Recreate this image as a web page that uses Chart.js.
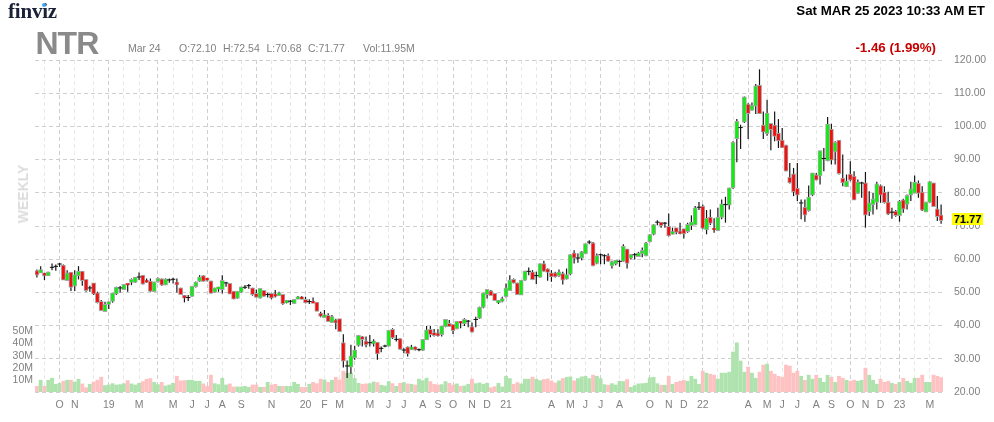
<!DOCTYPE html>
<html>
<head>
<meta charset="utf-8">
<script src="https://cdn.jsdelivr.net/npm/chart.js@4"></script>
<style>
html,body{margin:0;padding:0;background:#fff;width:994px;height:422px;overflow:hidden;font-family:"Liberation Sans",Arial,sans-serif}
#wrap{position:relative;width:994px;height:422px}
canvas{position:absolute;left:0;top:0}
.t{position:absolute;white-space:nowrap;line-height:1}
.s{font-size:10.5px;color:#808080;top:43px}
</style>
</head>
<body>
<div id="wrap">
<canvas id="c" width="994" height="422"></canvas>
<div class="t" style="left:8px;top:-1px;font:bold 21px 'Liberation Serif',serif;color:#1a2238;line-height:24px;letter-spacing:-.2px">finviz</div>
<div class="t" style="left:41.5px;top:3px;width:4px;height:4px;border-radius:50%;background:#4aa3f0"></div>
<div class="t" style="right:9px;top:3px;font:bold 13.3px 'Liberation Sans',sans-serif;color:#000">Sat MAR 25 2023 10:33 AM ET</div>
<div class="t" style="left:35.5px;top:25px;font:bold 32px 'Liberation Sans',sans-serif;color:#8a8a8a;letter-spacing:-1px">NTR</div>
<div class="t s" style="left:128px">Mar 24</div>
<div class="t s" style="left:179px">O:72.10</div>
<div class="t s" style="left:223px">H:72.54</div>
<div class="t s" style="left:266.5px">L:70.68</div>
<div class="t s" style="left:308px">C:71.77</div>
<div class="t s" style="left:363px">Vol:11.95M</div>
<div class="t" style="right:58px;top:40px;font:bold 13.3px 'Liberation Sans',sans-serif;color:#c80000">-1.46 (1.99%)</div>
<div class="t" style="left:23px;top:194px;transform:translate(-50%,-50%) rotate(-90deg);font:bold 14px 'Liberation Sans',sans-serif;color:#dcdcdc">WEEKLY</div>
<div class="t" style="left:952px;top:213px;width:31px;height:12px;background:#ffff00;font:bold 11px/12px 'Liberation Sans',sans-serif;color:#000;text-align:center">71.77</div>
</div>
<script>
const opens = [
56.4,56.0,55.7,55.2,57.4,57.7,58.4,58.0,53.7,55.9,
52.1,55.2,56.2,53.7,51.2,52.7,49.7,47.1,44.4,46.6,
47.5,49.7,51.2,51.0,52.5,53.2,53.2,54.5,55.0,53.5,
53.2,50.4,53.4,53.9,52.4,53.6,53.8,52.9,51.2,48.9,
48.3,49.0,51.9,53.5,54.9,54.2,53.3,50.2,51.2,51.0,
52.7,52.5,50.2,48.4,50.2,51.4,51.9,51.2,49.5,48.5,
50.4,49.2,49.5,49.3,49.2,49.2,47.0,47.2,46.8,48.2,
48.5,47.7,47.1,47.2,46.9,43.5,42.5,42.9,41.1,41.5,
41.9,34.7,27.7,27.7,30.5,34.2,36.5,35.2,34.7,34.6,
34.8,33.0,33.7,34.0,38.7,35.7,35.9,32.5,33.4,32.9,
33.4,32.6,32.7,35.9,38.7,37.7,37.6,37.5,39.9,40.5,
40.2,39.2,41.1,40.7,41.2,39.5,41.7,42.4,45.7,49.5,
50.3,49.5,47.0,47.5,48.9,50.7,53.7,52.7,49.4,53.9,
56.2,56.0,54.9,54.7,58.5,56.9,55.7,55.7,55.2,55.5,
54.2,55.7,61.7,60.2,60.5,61.9,65.0,64.7,58.9,61.2,
60.9,60.9,58.2,58.7,59.2,59.5,62.9,60.5,61.2,61.0,
61.8,61.2,65.4,67.7,71.0,71.0,70.7,69.7,67.7,69.3,
68.3,69.0,68.5,70.3,70.5,75.5,75.8,69.0,72.5,69.2,
68.8,72.8,76.3,76.5,81.7,96.5,99.5,101.5,106.5,105.0,
106.3,112.2,100.2,98.0,100.7,100.2,97.8,95.7,94.2,84.5,
85.5,81.2,76.8,75.5,74.8,79.5,85.2,85.3,90.2,89.8,
99.0,92.5,95.7,84.2,82.0,85.4,84.8,80.0,82.8,82.8,
74.5,76.6,77.3,82.0,80.0,77.0,74.0,74.3,73.3,77.7,
76.7,79.5,80.0,82.7,80.0,74.4,77.3,82.8,75.0,73.2];
const closes = [
55.4,56.7,55.2,56.0,57.4,57.7,58.4,53.9,55.7,51.7,
55.2,56.2,53.7,50.7,51.2,49.7,47.1,44.7,46.2,47.0,
49.7,51.4,51.2,52.2,52.4,53.7,54.4,54.5,52.7,53.2,
50.5,53.0,54.0,52.4,53.9,53.6,53.8,52.5,49.5,48.5,
48.3,51.7,52.9,54.5,53.5,53.8,49.9,51.2,51.5,53.4,
52.7,49.7,48.2,50.2,51.5,51.4,51.9,49.5,48.7,51.0,
49.0,49.2,48.5,49.0,49.7,46.7,47.4,47.2,47.7,48.5,
48.1,47.0,47.1,46.9,44.5,43.0,43.1,41.4,42.5,41.0,
38.4,29.5,27.7,30.7,32.5,36.9,36.0,34.4,34.7,35.2,
31.7,33.0,33.7,38.4,36.5,35.7,33.0,32.5,31.7,33.4,
32.9,32.6,35.7,38.5,37.5,37.2,37.1,39.7,41.7,39.9,
38.7,41.1,40.9,41.7,41.2,38.2,41.7,45.4,49.7,50.7,
49.2,47.7,47.4,47.9,51.2,53.5,53.0,49.5,53.5,56.2,
56.2,54.0,54.9,58.5,56.5,56.2,54.9,54.9,56.0,53.9,
55.2,61.2,60.5,60.2,62.1,64.5,65.0,58.2,60.9,61.2,
60.9,59.5,59.1,59.5,59.2,63.7,58.9,61.2,61.2,61.7,
62.5,64.7,67.2,70.2,71.0,70.3,70.7,67.2,68.3,68.3,
67.8,67.8,70.3,71.0,75.3,75.5,69.5,72.2,71.0,69.0,
72.5,76.5,76.3,81.3,95.0,101.3,99.5,108.7,104.0,106.2,
112.0,104.0,98.5,103.8,99.2,97.2,95.8,93.7,86.7,83.2,
80.5,79.5,76.8,73.5,78.5,85.8,84.0,92.5,90.2,100.5,
90.0,95.0,86.0,83.2,83.3,84.0,78.0,83.0,82.8,73.5,
76.8,78.0,82.5,79.5,77.2,73.8,74.0,73.3,77.3,75.3,
79.0,81.0,83.0,80.0,75.0,77.0,83.2,76.0,73.0,71.77];
const highs = [
56.9,57.9,55.9,56.2,58.7,58.4,58.9,58.4,56.7,55.9,
56.7,57.9,56.2,53.7,52.0,52.7,50.2,47.7,47.2,47.2,
49.7,51.7,51.9,52.5,52.5,54.2,54.4,56.0,55.0,54.2,
54.2,53.2,54.5,54.2,54.2,54.2,54.4,54.2,51.4,49.2,
49.2,51.7,53.3,55.2,55.2,54.3,53.5,51.4,51.7,55.2,
53.2,52.7,50.2,50.4,51.7,52.2,52.5,51.4,50.9,51.0,
50.7,49.9,49.9,50.7,50.2,49.4,47.7,47.7,47.9,48.9,
48.9,48.7,47.9,48.5,47.1,44.2,44.7,43.7,43.2,42.1,
41.9,37.4,29.5,34.2,33.9,37.2,36.9,36.7,37.2,35.9,
35.0,33.7,34.2,38.7,39.2,37.2,36.2,33.2,33.7,34.2,
33.7,33.1,36.0,39.9,39.9,39.0,38.9,39.9,41.9,41.7,
40.5,41.2,41.2,42.2,41.7,40.9,42.7,45.7,49.9,50.9,
50.7,49.7,47.7,48.7,52.7,55.2,54.2,52.9,53.7,56.5,
57.5,56.7,56.2,58.7,59.5,57.2,56.7,56.2,56.9,56.2,
57.2,61.5,62.7,61.7,62.5,64.7,65.7,65.2,61.7,61.7,
61.5,61.7,59.5,59.7,59.7,64.5,62.9,61.5,61.9,62.2,
63.5,65.2,67.5,70.5,71.7,71.2,71.2,73.8,69.5,69.3,
71.0,69.0,71.0,73.2,76.0,77.2,76.5,74.8,75.0,72.3,
75.5,78.0,78.8,81.5,95.5,102.2,100.5,109.0,107.0,107.2,
112.8,117.2,104.5,108.0,101.0,104.5,102.2,99.5,94.5,89.0,
87.5,89.0,78.0,78.0,82.2,86.0,86.0,92.7,93.5,102.8,
100.8,95.5,95.7,91.5,85.5,89.5,86.5,84.0,83.3,86.3,
80.5,80.0,83.3,82.5,82.0,80.3,75.5,74.8,77.8,78.2,
79.5,83.3,85.2,83.7,82.0,77.3,83.5,83.0,79.0,76.5];
const lows = [
54.5,55.9,53.7,55.1,56.7,56.5,57.7,53.8,53.5,50.4,
50.4,53.9,52.0,50.2,50.2,49.2,46.7,44.5,44.2,45.0,
46.9,49.2,50.0,50.7,50.2,52.2,52.9,53.7,52.4,52.9,
50.2,50.2,53.0,52.0,52.2,52.9,52.7,50.0,49.2,47.0,
47.4,48.7,51.5,53.2,53.3,53.3,49.7,49.9,50.2,49.7,
51.7,49.5,47.9,48.1,49.9,51.0,51.1,49.0,48.5,48.2,
48.7,48.5,47.9,48.5,48.9,46.3,46.7,46.2,46.7,47.9,
47.9,46.7,46.5,46.8,44.3,42.5,42.5,41.2,40.9,38.9,
38.2,27.4,24.2,25.5,29.7,33.7,33.7,33.5,33.7,33.7,
29.7,32.0,33.5,33.7,36.0,35.2,32.7,31.7,30.7,32.7,
32.5,32.3,32.4,35.7,36.5,36.7,36.7,36.7,39.5,39.7,
37.5,38.9,39.2,39.9,39.5,37.9,39.5,42.0,45.2,48.2,
48.9,47.5,46.5,47.0,48.5,50.5,52.7,49.2,49.2,53.5,
55.2,53.7,52.5,54.5,56.2,53.5,53.2,54.5,54.7,52.4,
53.9,55.2,58.7,58.9,59.7,61.5,64.5,57.9,58.5,58.5,
58.5,59.2,57.2,58.2,57.7,59.2,57.2,60.0,59.9,60.7,
60.6,60.9,65.1,67.2,70.2,69.5,69.5,66.8,67.5,67.5,
67.5,66.2,68.0,68.8,70.2,74.8,69.0,67.5,70.3,68.0,
68.5,72.0,71.0,75.0,81.2,89.2,93.2,101.0,96.2,104.8,
103.7,103.8,96.2,97.2,92.8,95.5,93.5,93.5,86.5,82.8,
79.0,77.5,72.0,71.3,74.4,79.0,83.8,82.5,86.5,89.5,
88.5,88.5,85.5,82.0,81.8,83.5,78.0,79.7,78.5,69.5,
73.0,73.5,75.0,77.0,76.8,73.3,72.2,72.8,71.3,74.0,
75.0,77.5,80.0,78.5,74.5,74.2,77.0,76.0,71.5,70.7];
const volumes = [
4.7,9.7,4.7,9.7,11.4,6.4,7.2,8.9,9.7,9.7,
8.3,10.6,6.7,3.6,6.4,8.3,9.7,12.2,5.3,5.8,
6.9,5.8,6.1,6.9,9.4,6.7,5.8,7.2,8.6,10.6,
11.1,8.0,6.1,8.0,5.0,5.8,7.2,13.0,9.2,9.4,
9.7,9.7,8.9,8.9,6.7,4.7,13.9,6.9,6.1,11.4,
5.8,6.7,4.2,4.2,4.2,4.7,3.9,5.8,5.8,3.9,
3.9,8.0,5.8,6.4,4.7,4.7,4.7,4.7,8.0,6.4,
3.9,3.9,6.4,8.0,6.9,10.6,10.0,8.0,9.7,12.2,
10.0,17.2,15.6,15.6,11.1,7.2,6.4,6.7,6.9,8.3,
7.8,5.6,5.0,8.6,6.9,4.7,7.2,7.8,6.7,6.4,
5.8,10.6,9.4,11.4,8.6,6.4,5.8,6.1,8.6,7.2,
5.8,6.7,4.7,5.0,6.4,10.6,6.9,7.5,6.4,7.2,
3.6,4.4,7.2,4.2,13.0,11.1,6.4,7.8,6.7,10.6,
10.6,12.2,10.6,9.4,10.3,10.8,9.2,7.5,9.2,11.1,
12.0,12.5,9.2,11.1,12.5,13.0,11.1,13.9,13.0,11.1,
6.1,5.6,6.9,5.8,8.9,8.6,10.3,3.9,5.3,6.7,
6.9,7.2,11.7,12.2,6.9,5.6,5.6,13.0,6.4,8.0,
8.9,9.7,8.9,13.0,10.6,6.4,17.2,15.6,14.7,13.9,
10.6,15.6,15.6,16.4,33.0,40.6,25.6,16.4,20.6,15.6,
11.4,16.4,22.2,23.0,17.2,14.7,13.0,12.2,22.2,21.4,
15.6,17.2,13.0,9.7,13.9,10.6,13.9,11.4,8.0,13.9,
12.2,8.0,13.0,11.4,9.7,8.9,9.7,8.9,9.7,19.7,
13.9,9.7,6.4,10.6,8.0,8.9,7.2,6.4,8.0,11.4,
8.9,7.2,11.4,11.4,13.9,8.0,8.0,13.9,13.0,11.95];
const tickWeeks  = [2,6,10,15,19,23,27,32,36,41,45,49,54,58,62,67,71,76,80,84,88,93,97,102,106,110,115,119,124,128,132,136,141,145,149,154,158,162,167,171,176,180,184,188,193,197,201,206,210,215,219,223,228,232,236];
const tickLabels = ['','O','N','','19','','M','','M','J','J','A','S','','N','','20','F','M','','M','J','J','A','S','O','N','D','21','','','A','M','J','J','A','','O','N','D','22','','','A','M','J','J','A','S','O','N','D','23','','M'];
const quarterWeeks = [6,19,32,45,58,71,84,97,110,124,136,149,162,176,188,201,215,228];
const priceTicks = [20,30,40,50,60,70,80,90,100,110,120];
const volumeTicks = [10,20,30,40,50];

const categories = opens.map((_, i) => new Date(Date.UTC(2018, 7, 24 + 7 * i)).toISOString().slice(0, 10));
const isDoji = i => Math.abs(opens[i] - closes[i]) < 0.05;
const grayFont = {family: "'Liberation Sans', Arial, sans-serif", size: 10.5};
const TICK = '#808080';

new Chart(document.getElementById('c'), {
  type: 'bar',
  data: {
    labels: categories,
    datasets: [
      {label: 'Volume', yAxisID: 'vol', order: 4, data: volumes, barThickness: 3.2,
       backgroundColor: ctx => closes[ctx.dataIndex] >= opens[ctx.dataIndex] ? '#aee3ae' : '#ffc2c2'},
      {label: 'Range', yAxisID: 'price', order: 3, data: lows.map((l, i) => [l, highs[i]]), barThickness: 1.2,
       backgroundColor: '#151515', inflateAmount: 0},
      {label: 'Body', yAxisID: 'price', order: 2, barThickness: 2.8,
       data: opens.map((o, i) => isDoji(i) ? null : [o, closes[i]]),
       backgroundColor: ctx => closes[ctx.dataIndex] >= opens[ctx.dataIndex] ? '#0eee0e' : '#f40e0e',
       borderColor: '#a8a8a8', borderWidth: 1, borderSkipped: false, inflateAmount: 1},
      {label: 'Flat', yAxisID: 'price', order: 1, barThickness: 4.4, minBarLength: 1,
       data: opens.map((o, i) => isDoji(i) ? [o, closes[i]] : null),
       backgroundColor: '#111', inflateAmount: 0}
    ]
  },
  options: {
    responsive: false,
    animation: false,
    devicePixelRatio: 1,
    layout: {autoPadding: false, padding: {top: 60, left: 0, right: 0, bottom: 0}},
    plugins: {legend: {display: false}, tooltip: {enabled: false}},
    datasets: {bar: {grouped: false}},
    scales: {
      x: {
        type: 'category', offset: true,
        grid: {offset: false, drawTicks: false,
               color: ctx => quarterWeeks.includes(ctx.tick && ctx.tick.value) ? '#cfcfcf' : '#e8e8e8'},
        border: {display: false, dash: [4, 3]},
        afterBuildTicks: s => { s.ticks = tickWeeks.map(v => ({value: v})); },
        afterFit: s => { s.height = 30; },
        ticks: {autoSkip: false, maxRotation: 0, minRotation: 0, padding: 7, color: TICK, font: grayFont,
                callback: v => { const k = tickWeeks.indexOf(v); return k < 0 ? '' : tickLabels[k]; }}
      },
      price: {
        type: 'linear', position: 'right', min: 20, max: 120,
        grid: {color: '#cfcfcf', drawTicks: false},
        border: {display: false, dash: [4, 3]},
        afterBuildTicks: s => { s.ticks = priceTicks.map(v => ({value: v})); },
        afterFit: s => { s.width = 51; },
        ticks: {autoSkip: false, padding: 11, color: TICK, font: grayFont, callback: v => v.toFixed(2)}
      },
      vol: {
        type: 'linear', position: 'left', min: 0, max: 274,
        grid: {display: false, drawTicks: false},
        border: {display: false},
        afterBuildTicks: s => { s.ticks = volumeTicks.map(v => ({value: v})); },
        afterFit: s => { s.width = 35; },
        ticks: {autoSkip: false, padding: 2, color: TICK, font: grayFont, callback: v => v + 'M'}
      }
    }
  }
});
</script>
</body>
</html>
